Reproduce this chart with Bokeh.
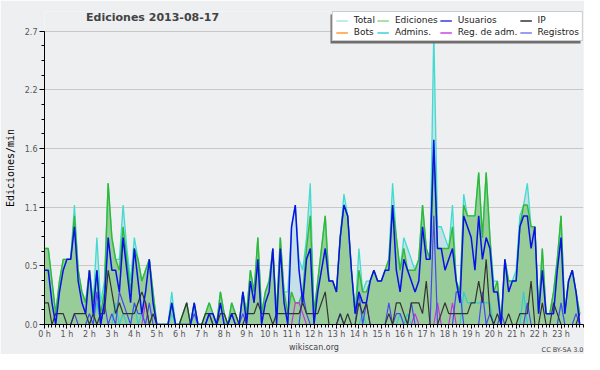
from bokeh.plotting import figure
from bokeh.models import (FixedTicker, PrintfTickFormatter, Label, Legend, LegendItem,
                          Title, BoxAnnotation)
from bokeh.embed import file_html
from bokeh.resources import INLINE

# ---- data: one value every 10 minutes (edits per minute), 6 values per hour ----
hour_labels = [f"{h} h" for h in range(24)]

total = [
    0.7, 0.7, 0.4, 0.1, 0.4, 0.6,
    0.6, 0.6, 1.1, 0.5, 0.3, 0.2,
    0.5, 0.2, 0.8, 0.2, 0.4, 1.3,
    0.8, 0.6, 0.6, 1.1, 0.7, 0.4,
    0.8, 0.6, 0.4, 0.5, 0.6, 0.3,
    0.0, 0.0, 0.0, 0.0, 0.3, 0.0,
    0.0, 0.1, 0.2, 0.0, 0.2, 0.0,
    0.0, 0.1, 0.2, 0.1, 0.0, 0.3,
    0.1, 0.0, 0.2, 0.1, 0.0, 0.3,
    0.1, 0.5, 0.3, 0.8, 0.1, 0.3,
    0.4, 0.7, 0.1, 0.8, 0.3, 0.3,
    0.9, 1.1, 0.6, 0.5, 0.8, 1.3,
    0.1, 0.4, 0.7, 1.0, 0.4, 0.4,
    0.3, 0.8, 1.2, 1.0, 0.5, 0.1,
    0.7, 0.3, 0.4, 0.4, 0.5, 0.4,
    0.4, 0.5, 0.6, 1.3, 0.8, 0.5,
    0.8, 0.7, 0.6, 0.5, 0.6, 1.1,
    0.7, 0.6, 2.7, 0.9, 0.9, 0.8,
    0.7, 1.1, 0.4, 0.3, 1.2, 1.0,
    1.0, 1.0, 1.4, 0.8, 1.4, 0.8,
    0.4, 0.4, 0.0, 0.6, 0.4, 0.4,
    0.5, 1.0, 1.1, 1.3, 0.9, 0.9,
    0.1, 0.7, 0.1, 0.1, 0.3, 0.6,
    1.0, 0.1, 0.4, 0.5, 0.3, 0.1,
]

ediciones = [
    0.7, 0.7, 0.4, 0.1, 0.4, 0.6,
    0.6, 0.6, 1.0, 0.5, 0.3, 0.2,
    0.5, 0.2, 0.5, 0.1, 0.3, 1.3,
    0.8, 0.6, 0.5, 0.9, 0.6, 0.3,
    0.7, 0.6, 0.4, 0.5, 0.6, 0.3,
    0.0, 0.0, 0.0, 0.0, 0.2, 0.0,
    0.0, 0.1, 0.2, 0.0, 0.2, 0.0,
    0.0, 0.1, 0.2, 0.1, 0.0, 0.3,
    0.1, 0.0, 0.2, 0.1, 0.0, 0.3,
    0.1, 0.5, 0.3, 0.8, 0.1, 0.3,
    0.4, 0.7, 0.1, 0.8, 0.3, 0.1,
    0.3, 0.2, 0.2, 0.3, 0.7, 1.0,
    0.1, 0.4, 0.7, 1.0, 0.4, 0.4,
    0.3, 0.8, 1.1, 1.0, 0.5, 0.1,
    0.5, 0.3, 0.3, 0.4, 0.5, 0.4,
    0.4, 0.5, 0.6, 1.1, 0.8, 0.5,
    0.7, 0.5, 0.5, 0.5, 0.6, 1.1,
    0.7, 0.6, 1.6, 0.7, 0.7, 0.7,
    0.7, 0.9, 0.4, 0.3, 1.1, 1.0,
    1.0, 1.0, 1.4, 0.8, 1.4, 0.8,
    0.3, 0.4, 0.0, 0.6, 0.4, 0.4,
    0.4, 0.9, 1.1, 1.1, 0.9, 0.9,
    0.1, 0.7, 0.1, 0.1, 0.3, 0.6,
    1.0, 0.1, 0.4, 0.5, 0.3, 0.1,
]

usuarios = [
    0.5, 0.5, 0.2, 0.0, 0.3, 0.5,
    0.6, 0.6, 0.9, 0.4, 0.2, 0.1,
    0.5, 0.1, 0.5, 0.0, 0.2, 0.8,
    0.5, 0.5, 0.3, 0.8, 0.5, 0.2,
    0.7, 0.4, 0.1, 0.3, 0.6, 0.2,
    0.0, 0.0, 0.0, 0.0, 0.2, 0.0,
    0.0, 0.0, 0.0, 0.0, 0.2, 0.0,
    0.0, 0.0, 0.1, 0.1, 0.0, 0.2,
    0.0, 0.0, 0.1, 0.0, 0.0, 0.3,
    0.0, 0.4, 0.2, 0.6, 0.0, 0.2,
    0.3, 0.7, 0.0, 0.7, 0.2, 0.0,
    0.9, 1.1, 0.5, 0.2, 0.6, 0.7,
    0.0, 0.3, 0.5, 0.7, 0.4, 0.4,
    0.3, 0.8, 1.1, 1.0, 0.5, 0.1,
    0.3, 0.2, 0.2, 0.4, 0.5, 0.4,
    0.4, 0.5, 0.5, 1.1, 0.5, 0.3,
    0.6, 0.5, 0.4, 0.3, 0.4, 0.9,
    0.6, 0.6, 1.7, 0.7, 0.7, 0.5,
    0.6, 0.7, 0.4, 0.2, 1.0, 0.9,
    0.8, 0.5, 1.0, 0.6, 0.8, 0.7,
    0.3, 0.3, 0.0, 0.6, 0.3, 0.4,
    0.4, 0.9, 1.0, 1.0, 0.7, 0.9,
    0.1, 0.5, 0.1, 0.1, 0.1, 0.5,
    0.8, 0.1, 0.4, 0.5, 0.3, 0.0,
]

ip = [
    0.2, 0.2, 0.0, 0.1, 0.1, 0.1,
    0.0, 0.0, 0.1, 0.1, 0.1, 0.1,
    0.0, 0.1, 0.0, 0.1, 0.1, 0.5,
    0.3, 0.1, 0.2, 0.1, 0.1, 0.1,
    0.1, 0.2, 0.3, 0.2, 0.0, 0.1,
    0.0, 0.0, 0.0, 0.0, 0.0, 0.0,
    0.0, 0.1, 0.2, 0.0, 0.0, 0.0,
    0.0, 0.1, 0.1, 0.0, 0.0, 0.1,
    0.1, 0.0, 0.1, 0.1, 0.0, 0.0,
    0.1, 0.1, 0.1, 0.2, 0.1, 0.1,
    0.1, 0.0, 0.1, 0.1, 0.1, 0.1,
    0.1, 0.1, 0.1, 0.2, 0.1, 0.1,
    0.1, 0.1, 0.2, 0.3, 0.0, 0.0,
    0.0, 0.1, 0.0, 0.1, 0.0, 0.0,
    0.2, 0.1, 0.2, 0.0, 0.0, 0.0,
    0.0, 0.0, 0.1, 0.0, 0.2, 0.2,
    0.1, 0.0, 0.2, 0.2, 0.2, 0.1,
    0.4, 0.0, 0.0, 0.0, 0.1, 0.2,
    0.1, 0.1, 0.1, 0.1, 0.1, 0.1,
    0.2, 0.2, 0.4, 0.2, 0.6, 0.1,
    0.0, 0.1, 0.0, 0.0, 0.1, 0.0,
    0.0, 0.1, 0.1, 0.1, 0.4, 0.0,
    0.0, 0.2, 0.0, 0.0, 0.2, 0.1,
    0.0, 0.0, 0.0, 0.0, 0.0, 0.1,
]

admins = [
    0.0, 0.0, 0.0, 0.0, 0.0, 0.0,
    0.0, 0.0, 0.0, 0.0, 0.0, 0.0,
    0.1, 0.0, 0.2, 0.0, 0.0, 0.0,
    0.0, 0.2, 0.0, 0.1, 0.0, 0.0,
    0.2, 0.0, 0.1, 0.0, 0.0, 0.0,
    0.0, 0.0, 0.0, 0.0, 0.1, 0.0,
    0.0, 0.0, 0.0, 0.0, 0.1, 0.0,
    0.0, 0.0, 0.1, 0.0, 0.0, 0.0,
    0.0, 0.0, 0.0, 0.0, 0.0, 0.0,
    0.0, 0.0, 0.0, 0.0, 0.0, 0.0,
    0.0, 0.0, 0.0, 0.0, 0.0, 0.0,
    0.0, 0.0, 0.0, 0.0, 0.0, 0.0,
    0.0, 0.0, 0.0, 0.0, 0.0, 0.0,
    0.0, 0.0, 0.0, 0.0, 0.0, 0.0,
    0.0, 0.1, 0.0, 0.0, 0.0, 0.0,
    0.0, 0.0, 0.0, 0.0, 0.0, 0.1,
    0.0, 0.1, 0.0, 0.0, 0.0, 0.0,
    0.0, 0.0, 0.0, 0.0, 0.0, 0.0,
    0.0, 0.0, 0.0, 0.0, 0.3, 0.2,
    0.2, 0.2, 0.2, 0.2, 0.2, 0.2,
    0.0, 0.0, 0.0, 0.0, 0.0, 0.0,
    0.0, 0.0, 0.3, 0.0, 0.0, 0.0,
    0.0, 0.0, 0.0, 0.0, 0.0, 0.0,
    0.2, 0.0, 0.0, 0.0, 0.0, 0.0,
]

registros = [
    0.0, 0.0, 0.0, 0.0, 0.0, 0.0,
    0.0, 0.0, 0.1, 0.0, 0.0, 0.0,
    0.1, 0.0, 0.3, 0.0, 0.2, 0.0,
    0.1, 0.0, 0.3, 0.2, 0.1, 0.0,
    0.2, 0.1, 0.1, 0.0, 0.2, 0.0,
    0.0, 0.0, 0.0, 0.0, 0.0, 0.0,
    0.0, 0.0, 0.0, 0.0, 0.1, 0.0,
    0.0, 0.0, 0.1, 0.0, 0.0, 0.0,
    0.0, 0.0, 0.0, 0.0, 0.0, 0.1,
    0.0, 0.0, 0.0, 0.0, 0.0, 0.0,
    0.0, 0.0, 0.0, 0.0, 0.0, 0.0,
    0.0, 0.0, 0.0, 0.3, 0.1, 0.0,
    0.0, 0.0, 0.0, 0.0, 0.0, 0.0,
    0.0, 0.1, 0.0, 0.0, 0.0, 0.0,
    0.3, 0.0, 0.2, 0.0, 0.0, 0.0,
    0.0, 0.0, 0.2, 0.0, 0.1, 0.1,
    0.0, 0.0, 0.2, 0.0, 0.0, 0.0,
    0.0, 0.0, 1.0, 0.0, 0.0, 0.0,
    0.0, 0.0, 0.3, 0.3, 0.0, 0.0,
    0.0, 0.0, 0.0, 0.3, 0.0, 0.1,
    0.0, 0.0, 0.1, 0.0, 0.0, 0.0,
    0.0, 0.0, 0.0, 0.2, 0.0, 0.0,
    0.0, 0.0, 0.0, 0.0, 0.0, 0.0,
    0.2, 0.0, 0.0, 0.0, 0.1, 0.0,
]

reg_adm = [
    0.0, 0.0, 0.0, 0.0, 0.0, 0.0,
    0.0, 0.0, 0.0, 0.0, 0.0, 0.0,
    0.0, 0.0, 0.0, 0.0, 0.0, 0.0,
    0.0, 0.0, 0.0, 0.0, 0.0, 0.0,
    0.0, 0.0, 0.0, 0.2, 0.0, 0.0,
    0.0, 0.0, 0.0, 0.0, 0.0, 0.0,
    0.0, 0.0, 0.0, 0.0, 0.0, 0.0,
    0.0, 0.0, 0.0, 0.0, 0.0, 0.0,
    0.0, 0.0, 0.0, 0.0, 0.0, 0.0,
    0.0, 0.0, 0.0, 0.0, 0.0, 0.0,
    0.0, 0.0, 0.0, 0.0, 0.0, 0.0,
    0.0, 0.2, 0.2, 0.1, 0.0, 0.0,
    0.0, 0.0, 0.0, 0.0, 0.0, 0.0,
    0.0, 0.0, 0.0, 0.0, 0.0, 0.0,
    0.0, 0.0, 0.0, 0.0, 0.0, 0.0,
    0.0, 0.0, 0.0, 0.0, 0.0, 0.0,
    0.0, 0.0, 0.0, 0.1, 0.0, 0.0,
    0.0, 0.0, 0.0, 0.2, 0.0, 0.0,
    0.0, 0.2, 0.0, 0.0, 0.0, 0.0,
    0.0, 0.0, 0.0, 0.0, 0.0, 0.0,
    0.0, 0.0, 0.0, 0.0, 0.0, 0.0,
    0.0, 0.0, 0.0, 0.0, 0.0, 0.0,
    0.0, 0.0, 0.0, 0.0, 0.0, 0.0,
    0.0, 0.0, 0.0, 0.0, 0.0, 0.0,
]

legend_names = ["Total", "Ediciones", "Usuarios", "IP",
                "Bots", "Admins.", "Reg. de adm.", "Registros"]
legend_colors = ["#a8e6df", "#8fd68f", "#3a3ae0", "#333333",
                 "#ff9a33", "#3ccfd6", "#cc44e6", "#7b7bef"]

# time of each sample in hours
t = [i / 6 for i in range(len(total))]

Y_MAX = 2.7          # top of the value axis
Y_VIEW = 2.882       # extra room above the axis for title and legend

BG = "#eeeff1"
p = figure(width=584, height=354, x_range=(0, 24), y_range=(0, Y_VIEW),
           output_backend="svg", toolbar_location=None,
           min_border_left=44, min_border_right=1, min_border_top=11,
           min_border_bottom=27)
p.background_fill_color = BG
p.border_fill_color = BG
p.outline_line_color = None

# areas
p.varea(x=t, y1=0, y2=total, fill_color="#c6e0e8")
p.varea(x=t, y1=0, y2=ediciones, fill_color="#98cc98")

# lines
p.line(t, total, line_color="#40dccf", line_width=1.3)
p.line(t, ediciones, line_color="#33b833", line_width=1.4)
p.line(t, admins, line_color="#33cccc", line_width=1.2)
p.line(t, reg_adm, line_color="#cc33dd", line_width=1.2)
p.line(t, registros, line_color="#4848f0", line_width=1.2)
p.line(t, ip, line_color="#333333", line_width=1.2)
p.line(t, usuarios, line_color="#0a10e8", line_width=1.5)

# axes
p.xaxis.ticker = FixedTicker(ticks=list(range(24)),
                             minor_ticks=[k / 6 for k in range(24 * 6 + 1)])
p.xaxis.major_label_overrides = {h: lab for h, lab in enumerate(hour_labels)}
p.yaxis.ticker = FixedTicker(ticks=[0, 0.54, 1.08, 1.62, 2.16, 2.7],
                             minor_ticks=[k * 0.135 for k in range(21)])
p.yaxis.formatter = PrintfTickFormatter(format="%.1f")
p.yaxis.bounds = (0, Y_MAX)
for ax in (p.xaxis, p.yaxis):
    ax.axis_line_color = "black"
    ax.major_tick_line_color = "black"
    ax.minor_tick_line_color = "black"
    ax.major_tick_in = 0
    ax.minor_tick_in = 0
    ax.major_label_text_font = "DejaVu Sans"
    ax.major_label_text_font_size = "8px"
    ax.major_label_text_color = "#555555"
p.xaxis.major_tick_out = 4
p.xaxis.minor_tick_out = 3
p.xaxis.major_label_standoff = 1
p.xaxis.axis_label = "wikiscan.org"
p.xaxis.axis_label_text_font = "DejaVu Sans"
p.xaxis.axis_label_text_font_style = "normal"
p.xaxis.axis_label_text_font_size = "8px"
p.xaxis.axis_label_text_color = "#444444"
p.xaxis.axis_label_standoff = 1
p.yaxis.major_tick_out = 5
p.yaxis.minor_tick_out = 3
p.yaxis.major_label_standoff = 2
p.yaxis.axis_label = "Ediciones/min"
p.yaxis.axis_label_text_font = "DejaVu Sans Mono"
p.yaxis.axis_label_text_font_style = "normal"
p.yaxis.axis_label_text_font_size = "10px"
p.yaxis.axis_label_text_color = "black"
p.yaxis.axis_label_standoff = 6

p.xgrid.grid_line_color = None
p.ygrid.grid_line_color = "#c8c8c8"

# licence note under the axis, level with "wikiscan.org"
p.add_layout(Title(text="CC BY-SA 3.0", align="right", vertical_align="top",
                   text_font="DejaVu Sans", text_font_size="6.5px",
                   text_font_style="normal", text_color="#444444",
                   standoff=-18), "below")

# title inside the (extended) frame
p.add_layout(Label(x=110, y=Y_MAX, y_offset=14, x_units="screen",
                   text="Ediciones  2013-08-17", text_font="DejaVu Sans",
                   text_font_style="bold", text_font_size="11px",
                   text_align="center", text_baseline="middle"))

# legend swatches (renderers with no visible points)
nan = float("nan")
items = []
for name, col in zip(legend_names, legend_colors):
    r = p.line(x=[nan], y=[nan], line_color=col, line_width=1.5)
    items.append(LegendItem(label=name, renderers=[r]))

# drop shadow of the legend box (offset 3 px left and 3 px down);
# screen units measured from the frame's lower-left corner
FRAME_W, FRAME_H = 539, 313
LEG_W, LEG_H = 250, 29
shadow = BoxAnnotation(left=FRAME_W - LEG_W - 3, right=FRAME_W - 3,
                       top=FRAME_H - 3, bottom=FRAME_H - LEG_H - 3,
                       left_units="screen", right_units="screen",
                       top_units="screen", bottom_units="screen",
                       fill_color="#6e6e6e", fill_alpha=1.0, line_color=None)
p.add_layout(shadow)

legend = Legend(items=items, orientation="horizontal", ncols=4,
                location="top_right")
legend.label_text_font = "DejaVu Sans"
legend.label_text_font_size = "9px"
legend.label_height = 9
legend.glyph_height = 9
legend.glyph_width = 12
legend.label_standoff = 6
legend.spacing = 2
legend.padding = 3
legend.margin = 0
legend.background_fill_color = "white"
legend.background_fill_alpha = 1.0
legend.border_line_color = "#999999"
legend.label_text_color = "#222222"
p.add_layout(legend)

open("out.html", "w").write(file_html(p, INLINE))
